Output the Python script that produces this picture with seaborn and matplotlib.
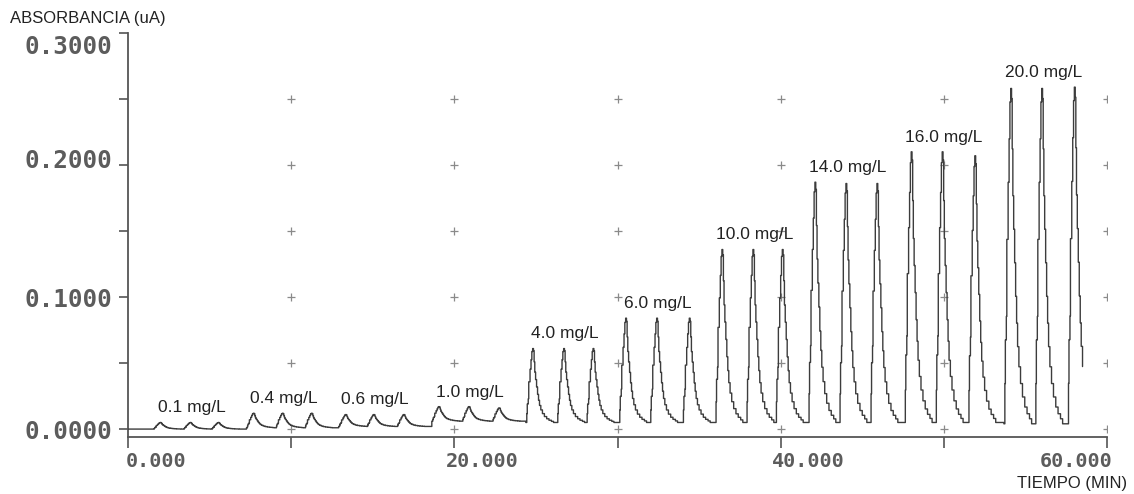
import numpy as np
import pandas as pd
import matplotlib
matplotlib.use("Agg")
import matplotlib.pyplot as plt
from matplotlib.transforms import ScaledTranslation
import seaborn as sns

# ---------------- data ----------------
CONC_LABELS = ["0.1 mg/L", "0.4 mg/L", "0.6 mg/L", "1.0 mg/L", "4.0 mg/L",
               "6.0 mg/L", "10.0 mg/L", "14.0 mg/L", "16.0 mg/L", "20.0 mg/L"]
# apex time (min) of each injection peak, three per standard
PEAK_TIMES = [
    [1.97, 3.81, 5.53],
    [7.68, 9.46, 11.24],
    [13.33, 15.05, 16.89],
    [19.04, 20.88, 22.73],
    [24.80, 26.70, 28.50],
    [30.50, 32.40, 34.40],
    [36.40, 38.30, 40.10],
    [42.10, 44.00, 45.90],
    [48.00, 49.90, 51.90],
    [54.10, 56.00, 58.00],
]
# apex absorbance of each peak
PEAK_TOPS = [
    [0.005, 0.005, 0.005],
    [0.012, 0.012, 0.012],
    [0.011, 0.011, 0.011],
    [0.017, 0.017, 0.016],
    [0.061, 0.061, 0.061],
    [0.084, 0.084, 0.084],
    [0.136, 0.136, 0.136],
    [0.187, 0.186, 0.186],
    [0.210, 0.210, 0.207],
    [0.258, 0.258, 0.259],
]
# baseline level under each standard
BASELINES = [0.000, 0.001, 0.002, 0.006, 0.005, 0.005, 0.005, 0.005, 0.005, 0.004]
# single-peak profile read from one 20 mg/L peak (time from apex, fraction of height)
PROFILE_DT = [-0.42, -0.37, -0.36, -0.33, -0.27, -0.24, -0.16, -0.10, -0.05, 0.00,
              0.05, 0.09, 0.13, 0.18, 0.24, 0.30, 0.36, 0.42, 0.50, 0.60,
              0.72, 0.86, 1.00, 1.15, 1.28]
PROFILE_FR = [0.00, 0.00, 0.12, 0.25, 0.32, 0.55, 0.72, 0.85, 0.96, 1.00,
              0.97, 0.82, 0.68, 0.58, 0.48, 0.38, 0.30, 0.23, 0.17, 0.12,
              0.08, 0.05, 0.03, 0.015, 0.00]
TRACE_START = 0.0
TRACE_END = 58.52

Y_TICKS = [0.0, 0.1, 0.2, 0.3]
Y_TICK_LABELS = ["0.0000", "0.1000", "0.2000", "0.3000"]
X_TICKS = [0, 10, 20, 30, 40, 50, 60]
X_TICK_LABELS = ["0.000", "", "20.000", "", "40.000", "", "60.000"]
GRID_X = [10, 20, 30, 40, 50, 60]
GRID_Y = [0.0, 0.05, 0.10, 0.15, 0.20, 0.25]

# ---------------- build the trace from the read values ----------------
t_pts, y_pts = [TRACE_START], [BASELINES[0]]
for g, (times, tops) in enumerate(zip(PEAK_TIMES, PEAK_TOPS)):
    base = BASELINES[g]
    for tp, top in zip(times, tops):
        for dt, fr in zip(PROFILE_DT, PROFILE_FR):
            t = tp + dt
            if t > TRACE_END:
                break
            t_pts.append(t)
            y_pts.append(base + (top - base) * fr)
trace = pd.DataFrame({"t": t_pts, "abs": y_pts})

grid = pd.DataFrame([(gx, gy) for gx in GRID_X for gy in GRID_Y], columns=["t", "abs"])

# ---------------- figure ----------------
sns.set_style("white")
plt.rcParams["font.family"] = ["Liberation Sans", "DejaVu Sans"]

fig = plt.figure(figsize=(11.34, 4.94), dpi=100)
ax = fig.add_axes([128 / 1134, 1 - 437 / 494, 979 / 1134, (437 - 33) / 494])

sns.scatterplot(data=grid, x="t", y="abs", marker="+", s=30, color="#8a8a8a",
                linewidth=0.9, ax=ax, zorder=1)
sns.lineplot(data=trace, x="t", y="abs", estimator=None, sort=False,
             drawstyle="steps-post", color="#3c3c3c", lw=1.0, ax=ax, zorder=3)

ax.set_xlim(0, 60)
ax.set_ylim(-0.006, 0.3)
ax.set_xlabel("")
ax.set_ylabel("")

for side in ["top", "right"]:
    ax.spines[side].set_visible(False)
for side in ["left", "bottom"]:
    ax.spines[side].set_color("#555555")
    ax.spines[side].set_linewidth(1.3)

tick_font = dict(family="DejaVu Sans Mono", weight="bold", color="#5c5c5c")
ax.set_xticks(X_TICKS)
ax.set_xticklabels(X_TICK_LABELS, fontsize=14.5, **tick_font)
ax.set_yticks(Y_TICKS)
ax.set_yticks([0.05, 0.15, 0.25], minor=True)
ax.set_yticklabels(Y_TICK_LABELS, fontsize=17.5, **tick_font)
ax.tick_params(axis="x", which="major", bottom=True, direction="out", length=8,
               width=1.2, color="#555555", pad=2.5)
ax.tick_params(axis="y", which="both", left=True, direction="out", length=6.5,
               width=1.2, color="#555555", pad=4.5)

# printer-style label placement
for lab, v in zip(ax.get_xticklabels(), X_TICKS):
    dx = 0.28 if v < 60 else -0.31
    lab.set_transform(lab.get_transform() + ScaledTranslation(dx, 0, fig.dpi_scale_trans))
y_shift = {0.0: 0.0, 0.1: 0.0, 0.2: 0.07, 0.3: -0.11}
for lab, v in zip(ax.get_yticklabels(), Y_TICKS):
    lab.set_transform(lab.get_transform() + ScaledTranslation(0, y_shift[v], fig.dpi_scale_trans))

# concentration labels above the middle peak of each standard
for lab, times, tops in zip(CONC_LABELS, PEAK_TIMES, PEAK_TOPS):
    ax.annotate(lab, xy=(times[1] + 0.1, max(tops)), xytext=(0, 10.5),
                textcoords="offset points", ha="center", va="center",
                fontsize=12.5, color="#222222")

fig.text(10 / 1134, 1 - 19 / 494, "ABSORBANCIA (uA)", ha="left", va="center",
         fontsize=12, color="#222222")
fig.text(1127 / 1134, 1 - 483 / 494, "TIEMPO (MIN)", ha="right", va="center",
         fontsize=12, color="#222222")

fig.savefig("out.png", dpi=100, facecolor="white")
